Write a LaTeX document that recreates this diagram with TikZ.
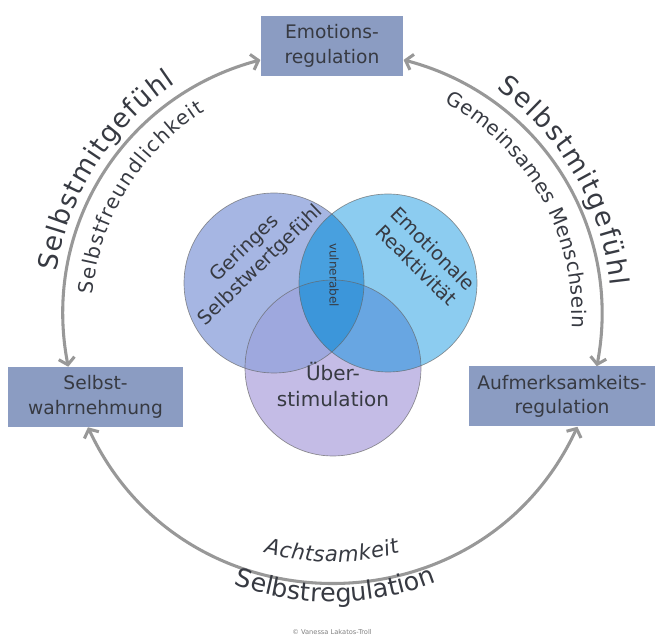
\documentclass[tikz,border=0pt]{standalone}
\usepackage{fontspec}
\setmainfont{DejaVu Sans}
\usetikzlibrary{arrows.meta}
\usetikzlibrary{calc,decorations.text}

\definecolor{boxblue}{RGB}{139,156,194}
\definecolor{arcgray}{RGB}{152,152,152}
\definecolor{txtgray}{RGB}{55,58,66}
\definecolor{vennleft}{RGB}{166,182,227}
\definecolor{vennright}{RGB}{140,204,240}
\definecolor{vennbottom}{RGB}{196,188,230}
\definecolor{vennlb}{RGB}{158,168,222}
\definecolor{vennrb}{RGB}{104,166,226}
\definecolor{vennlr}{RGB}{72,160,223}
\definecolor{venncenter}{RGB}{60,150,218}

\tikzset{
	box/.style={fill=boxblue,text=txtgray,align=center,inner sep=0pt,
		minimum height=45pt,font=\fontsize{14}{18.5}\selectfont},
	cycle/.style={draw=arcgray,line width=2.3pt,
		{Straight Barb[length=5pt,width=12pt]}-{Straight Barb[length=5pt,width=12pt]}},
	venn/.style={draw=black!60,draw opacity=0.7,line width=0.5pt},
	arctext/.style={decorate,decoration={text along path,text align=fit to path,text={#1}}},
}

\begin{document}
\begin{tikzpicture}[x=0.75pt,y=0.75pt]
	\useasboundingbox (0,0) rectangle (657,639);
	\coordinate (mitte) at (332,324);
	\coordinate (kreisL) at (274,356);
	\coordinate (kreisR) at (388,356);
	\coordinate (kreisB) at (333,271);

	\fill[vennbottom] (kreisB) circle (88);
	\fill[vennleft] (kreisL) circle (90);
	\fill[vennright] (kreisR) circle (89);
	\begin{scope}
		\clip (kreisL) circle (90);
		\fill[vennlb] (kreisB) circle (88);
	\end{scope}
	\begin{scope}
		\clip (kreisR) circle (89);
		\fill[vennrb] (kreisB) circle (88);
		\fill[vennlr] (kreisL) circle (90);
		\clip (kreisL) circle (90);
		\fill[venncenter] (kreisB) circle (88);
	\end{scope}
	\draw[venn] (kreisB) circle (88);
	\draw[venn] (kreisL) circle (90);
	\draw[venn] (kreisR) circle (89);

	\begin{scope}[every node/.style={text=txtgray,align=center,font=\fontsize{14.5}{17.5}\selectfont}]
		\node[rotate=44] (gering) at (253,382) {Geringes\\Selbstwertgefühl};
		\node[rotate=-45] (reaktiv) at (425,382) {Emotionale\\Reaktivität};
		\node[font=\fontsize{15}{19.5}\selectfont] (ueber) at (333,254) {Über-\\stimulation};
		\node[rotate=-90,font=\fontsize{9}{11}\selectfont] (vulnerabel) at (334,364) {vulnerabel};
	\end{scope}

	\node[box,minimum width=107pt] (emotion) at (332,593) {Emotions-\\regulation};
	\node[box,minimum width=131pt] (wahrnehmung) at (95.5,242) {Selbst-\\wahrnehmung};
	\node[box,minimum width=140pt] (aufmerksam) at (562,242.5) {Aufmerksamkeits-\\regulation};

	\draw[cycle] (emotion.191) to[bend right=43] (wahrnehmung.132);
	\draw[cycle] (emotion.349) to[bend left=43] (aufmerksam.41);
	\draw[cycle] (wahrnehmung.256) to[bend right=65,looseness=1.2] (aufmerksam.297);

	\path[arctext={|\color{txtgray}\fontsize{20}{24}\selectfont|Selbstmitgefühl}]
		($(mitte)+(171:279)$) arc[start angle=171,end angle=124,radius=279];
	\path[arctext={|\color{txtgray}\fontsize{15}{18}\selectfont|Selbstfreundlichkeit}]
		($(mitte)+(175:240)$) arc[start angle=175,end angle=122,radius=240];
	\path[arctext={|\color{txtgray}\fontsize{20}{24}\selectfont|Selbstmitgefühl}]
		($(mitte)+(54:280)$) arc[start angle=54,end angle=6,radius=280];
	\path[arctext={|\color{txtgray}\fontsize{15}{18}\selectfont|Gemeinsames Menschsein}]
		($(mitte)+(62:240)$) arc[start angle=62,end angle=-3,radius=240];
	\path[arctext={|\color{txtgray}\itshape\fontsize{16}{19}\selectfont|Achtsamkeit}]
		($(mitte)+(254:247)$) arc[start angle=254,end angle=286,radius=247];
	\path[arctext={|\color{txtgray}\fontsize{19}{22}\selectfont|Selbstregulation}]
		($(mitte)+(250:287)$) arc[start angle=250,end angle=290,radius=287];

	\node[text=black!50,font=\fontsize{5}{6}\selectfont] (copyright) at (332,7) {© Vanessa Lakatos-Troll};
\end{tikzpicture}
\end{document}
